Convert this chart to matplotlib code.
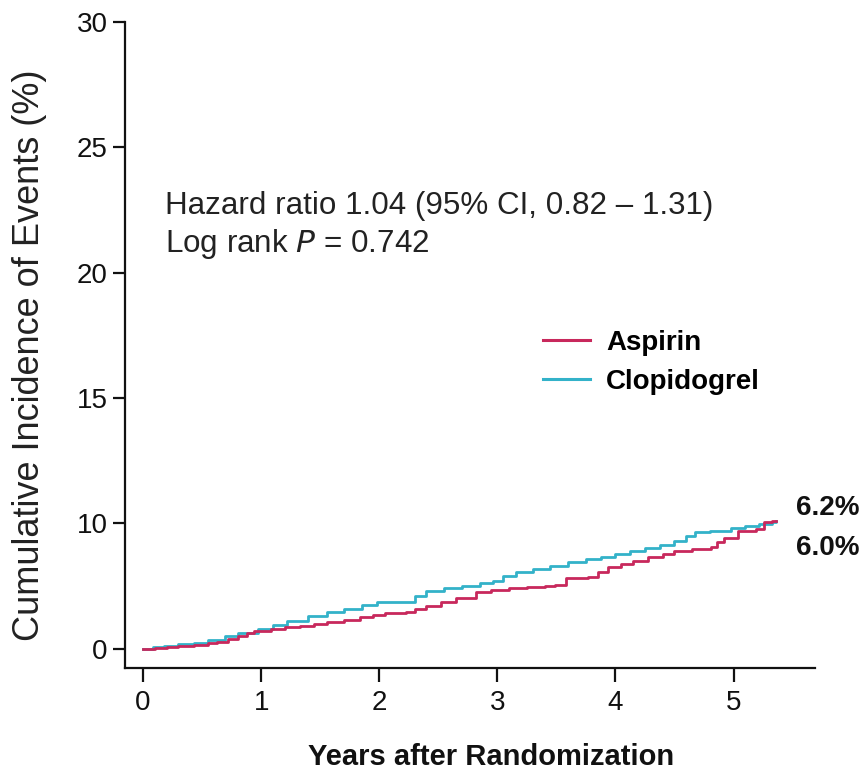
import matplotlib
matplotlib.use("Agg")
import matplotlib.pyplot as plt

plt.rcParams['font.family'] = ['Liberation Sans', 'DejaVu Sans']

# ---- data (y in plot units, one tick interval = 5) ----
aspirin_t = [0.00, 0.10, 0.20, 0.30, 0.43, 0.55, 0.63, 0.72, 0.80, 0.88, 0.94, 1.08,
             1.20, 1.33, 1.45, 1.56, 1.70, 1.84, 1.95, 2.05, 2.23, 2.30, 2.40, 2.52,
             2.65, 2.82, 2.95, 3.10, 3.25, 3.40, 3.49, 3.58, 3.77, 3.85, 3.94, 4.05,
             4.15, 4.28, 4.40, 4.50, 4.65, 4.81, 4.86, 4.92, 5.04, 5.19, 5.26, 5.33, 5.36]
aspirin_v = [0.00, 0.04, 0.08, 0.12, 0.16, 0.22, 0.27, 0.40, 0.52, 0.64, 0.73, 0.80,
             0.86, 0.93, 1.00, 1.07, 1.17, 1.27, 1.36, 1.42, 1.47, 1.59, 1.72, 1.86,
             2.02, 2.27, 2.36, 2.42, 2.47, 2.52, 2.55, 2.83, 2.87, 3.05, 3.26, 3.40,
             3.52, 3.66, 3.80, 3.91, 4.00, 4.06, 4.25, 4.44, 4.71, 4.78, 5.04, 5.11, 5.11]

clopi_t = [0.00, 0.08, 0.18, 0.30, 0.43, 0.55, 0.69, 0.80, 0.97, 1.10, 1.22, 1.40,
           1.56, 1.70, 1.85, 1.98, 2.20, 2.30, 2.40, 2.55, 2.70, 2.85, 2.96, 3.05,
           3.16, 3.30, 3.45, 3.60, 3.75, 3.88, 4.00, 4.12, 4.25, 4.38, 4.50, 4.60,
           4.67, 4.80, 4.98, 5.10, 5.22, 5.33, 5.36]
clopi_v = [0.00, 0.06, 0.12, 0.18, 0.24, 0.36, 0.52, 0.62, 0.80, 0.96, 1.13, 1.30,
           1.47, 1.60, 1.75, 1.87, 1.88, 2.10, 2.32, 2.42, 2.52, 2.63, 2.72, 2.90,
           3.06, 3.18, 3.32, 3.46, 3.58, 3.68, 3.78, 3.90, 4.03, 4.16, 4.31, 4.50,
           4.66, 4.72, 4.82, 4.90, 4.98, 5.06, 5.08]

series_names = ["Aspirin", "Clopidogrel"]
end_labels = ["6.2%", "6.0%"]
x_ticks = [0, 1, 2, 3, 4, 5]
x_tick_labels = ["0", "1", "2", "3", "4", "5"]
y_ticks = [0, 5, 10, 15, 20, 25]
y_tick_labels = ["0", "10", "15", "20", "25", "30"]

RED = "#c8285c"
CYAN = "#33b2c9"

W, H = 860, 776
fig = plt.figure(figsize=(W / 100, H / 100), dpi=100)
ax = fig.add_axes([125 / W, 1 - 668 / H, (815 - 125) / W, (668 - 21.7) / H])

ax.plot(aspirin_t, aspirin_v, drawstyle="steps-post", color=RED, lw=2.0,
        label=series_names[0], zorder=3)
ax.plot(clopi_t, clopi_v, drawstyle="steps-post", color=CYAN, lw=2.0,
        label=series_names[1], zorder=2)

ax.set_xlim(-0.153, 5.69)
ax.set_ylim(-0.76, 25)
ax.set_xticks(x_ticks)
ax.set_xticklabels(x_tick_labels)
ax.set_yticks(y_ticks)
ax.set_yticklabels(y_tick_labels)

for s in ["top", "right"]:
    ax.spines[s].set_visible(False)
for s in ["left", "bottom"]:
    ax.spines[s].set_linewidth(1.6)
    ax.spines[s].set_color("#111111")

ax.tick_params(axis="x", length=10, width=1.6, pad=6, labelsize=20, colors="#111111")
ax.tick_params(axis="y", length=8.5, width=1.6, pad=4, labelsize=20, colors="#111111")

# axis titles
fig.text(30 / W, 1 - 355 / H, "Cumulative Incidence of Events (%)", rotation=90,
         ha="center", va="center", fontsize=26, color="#222222")
fig.text(491 / W, 1 - 757 / H, "Years after Randomization", ha="center", va="center",
         fontsize=21, fontweight="bold", color="#111111")

# statistics text
fig.text(165 / W, 1 - 206 / H, "Hazard ratio 1.04 (95% CI, 0.82 \u2013 1.31)",
         ha="left", va="center", fontsize=22.6, color="#222222")
fig.text(165 / W, 1 - 244 / H, "Log rank $\\mathit{P}$ = 0.742",
         ha="left", va="center", fontsize=22.6, color="#222222")

# end labels
fig.text(796 / W, 1 - 508 / H, end_labels[0], ha="left", va="center",
         fontsize=20, fontweight="bold", color="#111111")
fig.text(796 / W, 1 - 548 / H, end_labels[1], ha="left", va="center",
         fontsize=20, fontweight="bold", color="#111111")

leg = ax.legend(loc="upper left", bbox_to_anchor=(543 / W, 1 - 330 / H),
                bbox_transform=fig.transFigure, frameon=False, borderpad=0,
                borderaxespad=0, handlelength=1.7, handletextpad=0.58,
                labelspacing=0.46, prop={"size": 20, "weight": "bold"})
for line in leg.get_lines():
    line.set_linewidth(2.2)

fig.savefig("out.png", dpi=100)
